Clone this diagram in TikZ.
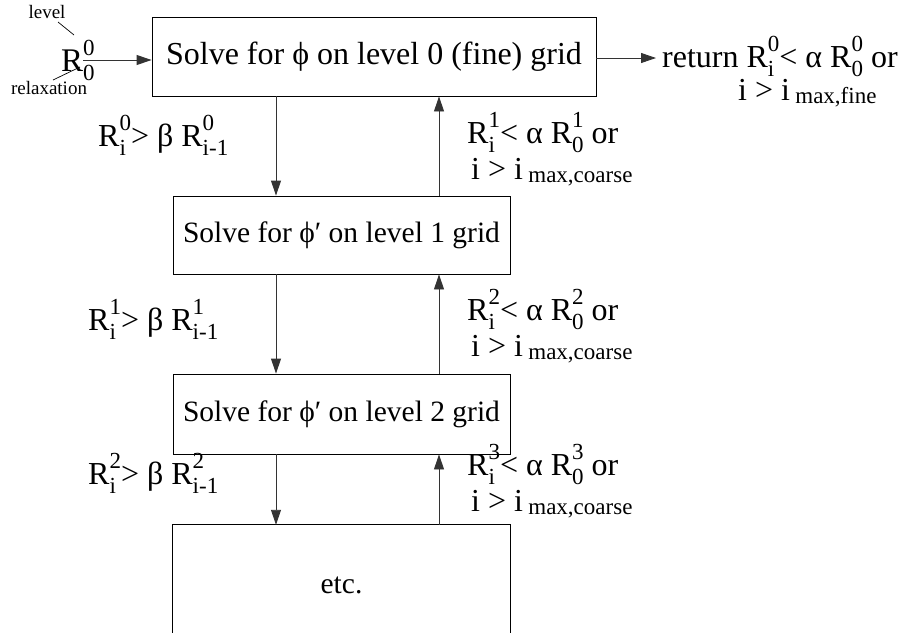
\documentclass[tikz,border=0pt]{standalone}
\usepackage{fontspec}
\setmainfont{Liberation Serif}
\usetikzlibrary{arrows.meta}
\newcommand\bigf{\fontsize{32}{36}\selectfont}
\newcommand\boxf{\fontsize{29.5}{34}\selectfont}
\newcommand\scr{\fontsize{23}{26}\selectfont}
\newcommand\smallf{\fontsize{19}{21}\selectfont}
\newcommand\supsub[2]{\setbox0\hbox{\scr#1}\setbox2\hbox{\scr#2}%
  \rlap{\raisebox{0.48em}{\copy0}}\rlap{\raisebox{-0.3em}{\copy2}}%
  \hskip\ifdim\wd0>\wd2 \wd0\else\wd2\fi\relax}
\newcommand\RR[2]{R\supsub{#1}{#2}}
\newcommand\imax[1]{i > i\,\raisebox{-0.12em}{\scr #1}}
\tikzset{
  box/.style={draw=black, line width=0.9pt, inner sep=0pt, font=\bigf},
  arr/.style={draw=black!80, line width=0.9pt, -{Triangle[length=15pt,width=10pt]}},
  lab/.style={anchor=base west, inner sep=0pt, font=\bigf},
  tick/.style={draw=black, line width=0.7pt}
}
\begin{document}
\begin{tikzpicture}[x=1pt,y=-1pt]
\useasboundingbox (0,0) rectangle (917,632);
\clip (0,0) rectangle (917,632);
% boxes
\node[box, minimum width=444pt, minimum height=79pt] (b0) at (374,56.5) {Solve for ϕ on level 0 (fine) grid};
\node[box, font=\boxf, minimum width=337pt, minimum height=78pt] (b1) at (341.5,235) {Solve for ϕ′ on level 1 grid};
\node[box, font=\boxf, minimum width=337pt, minimum height=80pt] (b2) at (341.5,414) {Solve for ϕ′ on level 2 grid};
\node[inner sep=0pt, minimum width=337pt, minimum height=130pt] (b3) at (341.5,590) {};
\node[font=\boxf] (etc) at (341.5,585) {etc.};
\draw[line width=0.9pt] (b3.south west) -- (b3.north west) -- (b3.north east) -- (b3.south east);
\coordinate (dx) at (276,0);
\coordinate (ux) at (439,0);
% left residual
\node[anchor=base west, inner sep=0pt, font=\fontsize{33}{36}\selectfont] (r00) at (61,71) {R\supsub{0}{0}};
\node[font=\smallf, inner sep=0pt] (lev) at (47,12) {level};
\node[font=\smallf, inner sep=0pt] (rel) at (49,88) {relaxation};
\coordinate (levstart) at (58,22);
\coordinate (levend) at (74,35);
\coordinate (relstart) at (53,80);
\coordinate (relend) at (80,67);
\draw[tick] (levstart) -- (levend);
\draw[tick] (relstart) -- (relend);
\draw[arr] (r00.east |- 0,60) coordinate (ra) -- (ra -| b0.west);
% return
\draw[arr] (b0.east |- 0,58) coordinate (rb) -- (656,58) coordinate (rc);
\node[lab] (ret) at (662,67) {return \RR{0}{i}< α \RR{0}{0} or};
\node[lab] (ret2) at (738,100) {\imax{max,fine}};
% down arrows
\draw[arr] (b0.south -| dx) -- (b1.north -| dx);
\draw[arr] (b1.south -| dx) -- (b2.north -| dx);
\draw[arr] (b2.south -| dx) -- (b3.north -| dx);
% up arrows
\draw[arr] (b1.north -| ux) -- (b0.south -| ux);
\draw[arr] (b2.north -| ux) -- (b1.south -| ux);
\draw[arr] (b3.north -| ux) -- (b2.south -| ux);
% down labels
\node[lab] (d0) at (98,146) {\RR{0}{i}> β \RR{0}{i-1}};
\node[lab] (d1) at (88,330) {\RR{1}{i}> β \RR{1}{i-1}};
\node[lab] (d2) at (88,484) {\RR{2}{i}> β \RR{2}{i-1}};
% up labels
\node[lab] (u1) at (467,143) {\RR{1}{i}< α \RR{1}{0} or};
\node[lab] (u1b) at (471,179) {\imax{max,coarse}};
\node[lab] (u2) at (467,320) {\RR{2}{i}< α \RR{2}{0} or};
\node[lab] (u2b) at (471,356) {\imax{max,coarse}};
\node[lab] (u3) at (467,475) {\RR{3}{i}< α \RR{3}{0} or};
\node[lab] (u3b) at (471,511) {\imax{max,coarse}};
\end{tikzpicture}
\end{document}
